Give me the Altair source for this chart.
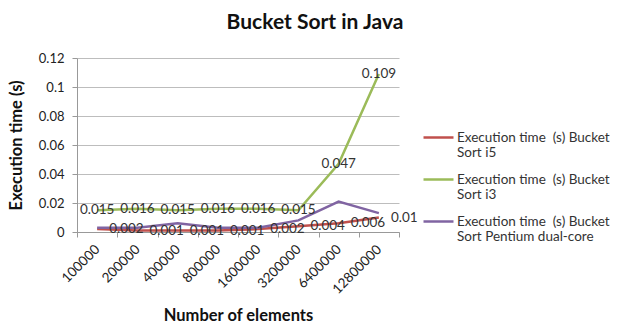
import altair as alt
import pandas as pd

categories = ["100000", "200000", "400000", "800000", "1600000", "3200000", "6400000", "12800000"]
i5 = [0.002, 0.001, 0.001, 0.001, 0.002, 0.004, 0.006, 0.01]
i3 = [0.015, 0.016, 0.015, 0.016, 0.016, 0.015, 0.047, 0.109]
pentium = [0.003, 0.003, 0.006, 0.003, 0.003, 0.008, 0.021, 0.013]
y_ticks = [0, 0.02, 0.04, 0.06, 0.08, 0.1, 0.12]
series_names = [
    "Execution time \u00a0(s) Bucket Sort i5",
    "Execution time \u00a0(s) Bucket Sort i3",
    "Execution time \u00a0(s) Bucket Sort Pentium dual-core",
]
colors = ["#C0504D", "#9BBB59", "#8064A2"]

rows = []
for name, vals in zip(series_names, [i5, i3, pentium]):
    for c, v in zip(categories, vals):
        rows.append({"n": c, "t": v, "s": name})
df = pd.DataFrame(rows)

FONT = "Lato"

x = alt.X("n:N", sort=categories, title="Number of elements", bandPosition=0.5,
          scale=alt.Scale(type="band", paddingInner=0, paddingOuter=0),
          axis=alt.Axis(labelAngle=-45, labelAlign="right", labelBaseline="middle",
                        labelFontSize=13.5, labelColor="#222", tickBand="extent",
                        tickColor="#999", tickSize=5, domainColor="#999",
                        titleFontSize=16.5, titleFontWeight="bold",
                        titlePadding=12, labelPadding=10))
y = alt.Y("t:Q", title="Execution time (s)",
          scale=alt.Scale(domain=[0, 0.12]),
          axis=alt.Axis(values=y_ticks, labelExpr="toString(datum.value)", labelFontSize=13,
                        labelColor="#222", gridColor="#bdbdbd", domainColor="#999",
                        tickColor="#999", tickSize=5, titleFontSize=16.5,
                        titleFontWeight="bold", titlePadding=14, labelPadding=8))
color = alt.Color("s:N", scale=alt.Scale(domain=series_names, range=colors),
                  legend=alt.Legend(title=None, orient="none", legendX=345, legendY=63,
                                    symbolType="stroke", symbolSize=900,
                                    symbolStrokeWidth=2.5, labelFontSize=13.5,
                                    labelFont=FONT, labelColor="#333",
                                    labelExpr="split(replace(datum.label, ' Bucket ', ' Bucket|'), '|')",
                                    labelBaseline="middle", labelOffset=2, rowPadding=3,
                                    labelLimit=300))

base = alt.Chart(df)
lines = base.mark_line(strokeWidth=2.5).encode(x=x, y=y, color=color)

lab_i3 = base.transform_filter(alt.datum.s == series_names[1]).mark_text(
    fontSize=13.5, font=FONT, color="#333", align="center", baseline="middle"
).encode(x=x, y=y, text=alt.Text("t:Q"))
lab_i5 = base.transform_filter(alt.datum.s == series_names[0]).mark_text(
    fontSize=13.5, font=FONT, color="#333", align="left", baseline="middle", dx=12
).encode(x=x, y=y, text=alt.Text("t:Q"))

chart = alt.layer(lines, lab_i3, lab_i5).properties(
    width=322, height=174,
    padding={"left": 77, "top": 58, "right": 227, "bottom": 92},
    autosize=alt.AutoSizeParams(type="none"),
    title=alt.TitleParams("Bucket Sort in Java", fontSize=21, font=FONT, fontWeight="bold",
                          color="#111", anchor="middle", dx=77, offset=19),
).configure(font=FONT).configure_view(stroke=None).configure_axis(
    labelFont=FONT, titleFont=FONT, titleColor="#111")

chart.save("out.html", embed_options={"renderer": "svg", "actions": False})
